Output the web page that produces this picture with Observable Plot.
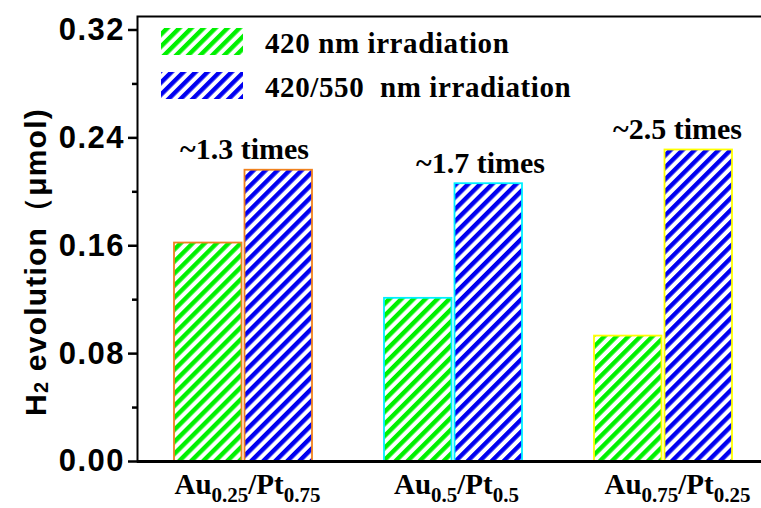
<!DOCTYPE html>
<html>
<head>
<meta charset="utf-8">
<script src="https://cdn.jsdelivr.net/npm/d3@7"></script>
<script src="https://cdn.jsdelivr.net/npm/@observablehq/plot@0.6"></script>
<style>
  html, body { margin: 0; padding: 0; background: #fff; overflow: hidden; }
  #wrap { position: relative; width: 761px; height: 508px; }
</style>
</head>
<body>
<div id="wrap"></div>
<script>
// ---- data ----
const samples = ["Au0.25/Pt0.75", "Au0.5/Pt0.5", "Au0.75/Pt0.25"];
const seriesNames = ["420 nm irradiation", "420/550  nm irradiation"];
const values420 = [0.162, 0.121, 0.093];
const values420550 = [0.216, 0.206, 0.231];
const enhancement = ["~1.3 times", "~1.7 times", "~2.5 times"];
const yTicks = [0, 0.08, 0.16, 0.24, 0.32];
const yMinorTicks = [0.04, 0.12, 0.20, 0.28];
const yLabel = ["H", "2", " evolution（μmol)"];

// ---- styles ----
const edgeColors = ["#f0821e", "#00f0ff", "#ffff00"];
const annotationNudge = [1, 27, 14];
const sampleLabelNudge = [4, 3, 14];
const serif = "'Liberation Serif', 'Times New Roman', serif";
const sans = "'Liberation Sans', Arial, sans-serif";
const yFmt = d3.format(".2f");

const rows420 = samples.map((s, i) => ({sample: s, value: values420[i], edge: edgeColors[i]}));
const rows550 = samples.map((s, i) => ({sample: s, value: values420550[i], edge: edgeColors[i]}));

const chart = Plot.plot({
  width: 761,
  height: 508,
  marginLeft: 137,
  marginRight: -2,
  marginTop: 16,
  marginBottom: 47,
  style: {background: "#fff", overflow: "hidden"},
  x: {domain: samples, paddingInner: 0.3444, paddingOuter: 0.159, align: 0.537, axis: null},
  y: {domain: [0, 0.33]},
  color: {type: "identity"},
  marks: [
    Plot.barY(rows420, {x: "sample", y: "value", fill: "url(#hatchGreen)", stroke: "edge", strokeWidth: 1.8, insetRight: 70.5}),
    Plot.barY(rows550, {x: "sample", y: "value", fill: "url(#hatchBlue)", stroke: "edge", strokeWidth: 1.8, insetLeft: 70.5}),
    Plot.frame({stroke: "#000", strokeWidth: 2}),
    Plot.ruleY([0], {stroke: "#000", strokeWidth: 3}),
    Plot.axisY({ticks: yTicks, tickSize: 9, tickPadding: 3.5, tickFormat: yFmt,
      strokeWidth: 2.5, fontSize: 31, fontWeight: "bold", fontFamily: sans, label: null, color: "#000"}),
    Plot.axisY({ticks: yMinorTicks, tickSize: 5, tickFormat: () => "", strokeWidth: 2.5, label: null, color: "#000"}),
    ...samples.map((s, i) => Plot.text([s], {x: d => d, frameAnchor: "bottom", dy: 32, dx: sampleLabelNudge[i],
      lineAnchor: "bottom", fontSize: 29, fontWeight: "bold", fontFamily: serif, fill: "#000"})),
    ...enhancement.map((t, i) => Plot.text([i], {x: d => samples[d], y: d => values420550[d], text: d => enhancement[d],
      dy: -11, dx: annotationNudge[i], lineAnchor: "bottom", fontSize: 30, fontWeight: "bold", fontFamily: serif, fill: "#000"}))
  ]
});

document.getElementById("wrap").appendChild(chart);

const svg = d3.select(chart);

// hatch patterns
const defs = svg.insert("defs", ":first-child");
function hatch(id, color) {
  const p = defs.append("pattern").attr("id", id)
    .attr("patternUnits", "userSpaceOnUse").attr("width", 8.5).attr("height", 8.5)
    .attr("patternTransform", "rotate(45)");
  p.append("rect").attr("width", 8.5).attr("height", 8.5).attr("fill", "#fff");
  p.append("rect").attr("width", 4.4).attr("height", 8.5).attr("fill", color);
}
hatch("hatchGreen", "#00f000");
hatch("hatchBlue", "#0000f0");

const yTickLabels = yTicks.map(yFmt);
svg.selectAll("text").each(function() {
  const t = this.textContent;
  const sel = d3.select(this);
  if (yTickLabels.includes(t)) { sel.attr("letter-spacing", 1.5); return; }
  if (!samples.includes(t)) return;
  // subscripts in sample labels
  sel.text(null);
  const parts = t.match(/([A-Za-z\/]+|[\d.]+)/g);
  let sub = false;
  parts.forEach(part => {
    const isNum = /^[\d.]+$/.test(part);
    const ts = sel.append("tspan").text(part);
    if (isNum && !sub) { ts.attr("dy", 8).attr("font-size", 21); sub = true; }
    else if (isNum) { ts.attr("font-size", 21); }
    else if (sub) { ts.attr("dy", -8); sub = false; }
  });
});

// y-axis title
const yl = svg.append("text")
  .attr("transform", "translate(35,262) rotate(-90)")
  .attr("text-anchor", "middle")
  .attr("dominant-baseline", "central")
  .attr("font-family", sans).attr("font-weight", "bold").attr("font-size", 30)
  .attr("letter-spacing", 1.2).attr("fill", "#000");
yl.append("tspan").text(yLabel[0]);
yl.append("tspan").text(yLabel[1]).attr("font-size", 20).attr("dy", 6);
yl.append("tspan").text(yLabel[2]).attr("dy", -6);

// legend
const legend = svg.append("g").attr("text-anchor", "start");
const swatchFills = ["url(#hatchGreen)", "url(#hatchBlue)"];
seriesNames.forEach((name, i) => {
  const top = i === 0 ? 28 : 72;
  legend.append("rect").attr("x", 161).attr("y", top).attr("width", 82).attr("height", 27).attr("fill", swatchFills[i]);
  legend.append("text").attr("x", 265).attr("y", top + 25)
    .attr("text-anchor", "start")
    .attr("font-family", serif).attr("font-weight", "bold").attr("font-size", 29)
    .attr("letter-spacing", 0.6).style("white-space", "pre")
    .attr("fill", "#000").text(name);
});
</script>
</body>
</html>
